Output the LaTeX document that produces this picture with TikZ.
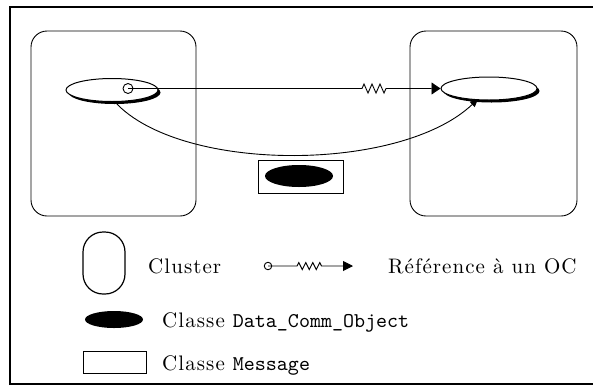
\documentclass[tikz,border=0pt]{standalone}
\usepackage{fontspec}
\setmainfont{lmroman10-regular.otf}
\setmonofont{lmmono10-regular.otf}
\usetikzlibrary{shapes.geometric,shadows,arrows.meta,decorations.pathmorphing}
\begin{document}
\begin{tikzpicture}[x=1pt,y=-1pt,
  font=\fontsize{21}{25}\selectfont,
  clusterbox/.style={draw, line width=0.9pt, rounded corners=16pt, inner sep=0pt},
  oc/.style={ellipse, draw, fill=white, line width=1pt, inner sep=0pt,
     drop shadow={fill=black, opacity=1, shadow xshift=2.5pt, shadow yshift=-2.5pt}},
  dcobj/.style={ellipse, fill=black, inner sep=0pt},
  msgbox/.style={draw, line width=0.9pt, inner sep=0pt},
  refcirc/.style={circle, draw, fill=white, line width=0.9pt, inner sep=0pt},
  conn/.style={line width=0.9pt},
  reftip/.style={-{Triangle[length=9pt,width=12pt]}},
  legtxt/.style={anchor=base west, inner sep=0pt, font=\fontsize{21}{25}\selectfont\addfontfeatures{LetterSpace=5}}
]
\useasboundingbox (0,0) rectangle (593,386);
\clip (0,0) rectangle (593,386);
% frame
\draw[line width=2pt] (10,385) -- (10,7) -- (600,7);
\draw[line width=1.2pt] (10,384) -- (600,384);
% clusters
\node[clusterbox, minimum width=165pt, minimum height=185pt] (leftcl) at (113.5,123.5) {};
\node[clusterbox, minimum width=167pt, minimum height=185pt] (rightcl) at (493.5,123.5) {};
% objects
\node[oc, minimum width=92pt, minimum height=23pt] (e1) at (112,90) {};
\node[oc, minimum width=96pt, minimum height=23pt] (e2) at (489,88.5) {};
\node[refcirc, minimum size=10pt] (circ) at (128,88.5) {};
% message
\node[msgbox, minimum width=85pt, minimum height=33pt] (msg) at (300.5,176.5) {};
\node[dcobj, minimum width=68pt, minimum height=22pt] (dco) at (299,176) {};
% reference connector
\draw[conn, reftip, decorate, decoration={zigzag, segment length=8pt, amplitude=4.5pt, pre length=234pt, post length=51pt}]
  (circ.center) -- (e2.west);
% curved connector
\coordinate (cstart) at (115,102);
\coordinate (cend) at (478,99);
\draw[conn, -{Triangle[length=8pt,width=7pt]}] (cstart) .. controls (180,173) and (400,173) .. (cend);
% legend
\node[draw, line width=1.2pt, rounded corners=20pt, minimum width=42pt, minimum height=62pt, inner sep=0pt] (lcl) at (104,263) {};
\node[legtxt] (tcl) at (148,273) {Cluster};
\node[refcirc, minimum size=7.5pt] (lcirc) at (268,266) {};
\coordinate (lend) at (353,266);
\draw[conn, -{Triangle[length=10pt,width=10pt]}, decorate, decoration={zigzag, segment length=7pt, amplitude=3.5pt, pre length=29pt, post length=31pt}]
  (lcirc.center) -- (lend);
\node[legtxt] (tref) at (388,273) {Référence à un OC};
\node[dcobj, minimum width=58pt, minimum height=17pt] (ldco) at (114,319.5) {};
\node[legtxt] (tdco) at (162,327) {Classe {\ttfamily\addfontfeatures{LetterSpace=0}Data\_Comm\_Object}};
\node[msgbox, minimum width=63pt, minimum height=22pt] (lmsg) at (114.5,362) {};
\node[legtxt] (tmsg) at (162,370) {Classe {\ttfamily\addfontfeatures{LetterSpace=0}Message}};
\end{tikzpicture}
\end{document}
